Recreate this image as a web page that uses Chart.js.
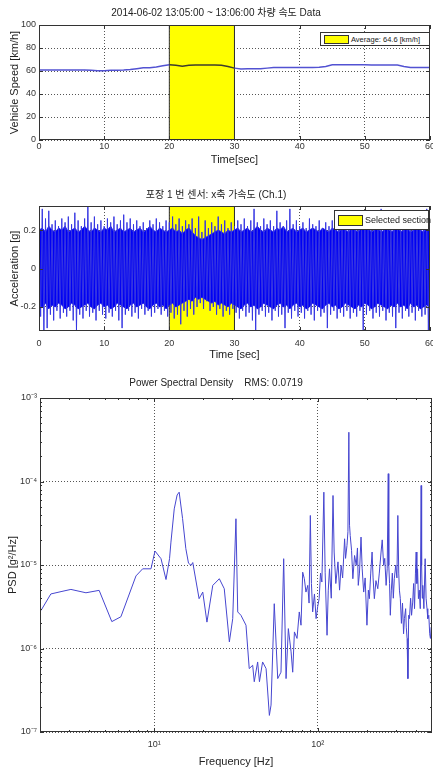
<!DOCTYPE html>
<html>
<head>
<meta charset="utf-8">
<script src="https://cdn.jsdelivr.net/npm/chart.js@4.4.1/dist/chart.umd.min.js"></script>
<style>
  html, body { margin: 0; padding: 0; background: #fff; overflow: hidden; }
  body { width: 433px; height: 772px; position: relative; }
  canvas { position: absolute; left: 0; }
  .legend { position: absolute; background: #fff; border: 1px solid #333; box-sizing: border-box;
            font-family: 'Liberation Sans', Arial, sans-serif; color: #222; white-space: nowrap; }
  .legend .swatch { position: absolute; background: #ffff00; border: 1px solid #333; box-sizing: border-box; }
  .legend .label { position: absolute; }
</style>
</head>
<body>
<canvas id="speedChart" width="435" height="178" style="top:0"></canvas>
<canvas id="accelChart" width="435" height="186" style="top:180px"></canvas>
<canvas id="psdChart" width="433" height="406" style="top:366px"></canvas>

<div class="legend" style="left:320px;top:32px;width:110px;height:14px">
  <div class="swatch" style="left:3px;top:2px;width:25px;height:9px"></div>
  <div class="label" id="speedLegend" style="left:30px;top:1px;font-size:7.5px;line-height:11px"></div>
</div>
<div class="legend" style="left:334px;top:210px;width:95px;height:20px">
  <div class="swatch" style="left:3px;top:4px;width:25px;height:11px"></div>
  <div class="label" id="accelLegend" style="left:30px;top:4px;font-size:9px;line-height:11px"></div>
</div>

<script>
// selected section (sec)
const sectionRange = [20, 30];

// vehicle speed, one value per second, 0..60 s
const speedValues = [60.8, 60.8, 60.8, 60.8, 60.8, 60.8, 60.8, 60.8, 60.6, 60.2, 60.2,
    60.6, 60.6, 60.8, 61.3, 62, 62.8, 62.8, 63.5, 64.5, 65.5,
    65, 64.2, 65, 65.3, 65.3, 65.3, 65.3, 65, 64, 62.5,
    61.8, 62, 62, 62, 62.5, 63, 63, 63, 63, 63,
    63, 63, 63.2, 64, 65.5, 65.5, 65.5, 65.5, 65.5, 65.5,
    65.2, 65.2, 65.2, 65.2, 65.2, 64, 63, 63, 63, 63];
const speedXTicks = [0, 10, 20, 30, 40, 50, 60];
const speedYTicks = [0, 20, 40, 60, 80, 100];
const speedLegendText = 'Average: 64.6 [km/h]';

// acceleration: peak (max / min) per half second, 0..60 s
const accelMax = [0.24, 0.31, 0.26, 0.30, 0.23, 0.25, 0.22, 0.26, 0.24, 0.27,
    0.23, 0.29, 0.25, 0.22, 0.26, 0.33, 0.24, 0.27, 0.23, 0.25,
    0.22, 0.26, 0.24, 0.27, 0.23, 0.25, 0.28, 0.24, 0.26, 0.23,
    0.25, 0.22, 0.24, 0.21, 0.25, 0.23, 0.26, 0.24, 0.22, 0.25,
    0.24, 0.27, 0.23, 0.26, 0.22, 0.25, 0.23, 0.26, 0.21, 0.27,
    0.19, 0.25, 0.21, 0.24, 0.22, 0.27, 0.23, 0.25, 0.21, 0.24,
    0.22, 0.25, 0.23, 0.26, 0.22, 0.25, 0.31, 0.24, 0.22, 0.26,
    0.23, 0.25, 0.22, 0.30, 0.24, 0.22, 0.25, 0.31, 0.23, 0.25,
    0.22, 0.24, 0.21, 0.26, 0.23, 0.22, 0.25, 0.21, 0.24, 0.22,
    0.25, 0.23, 0.21, 0.24, 0.22, 0.30, 0.23, 0.21, 0.24, 0.22,
    0.25, 0.22, 0.24, 0.21, 0.25, 0.31, 0.22, 0.24, 0.23, 0.30,
    0.22, 0.25, 0.23, 0.21, 0.30, 0.23, 0.25, 0.22, 0.24, 0.31, 0.23];
const accelMin = [-0.25, -0.32, -0.31, -0.24, -0.27, -0.22, -0.26, -0.23, -0.25, -0.22,
    -0.27, -0.32, -0.24, -0.26, -0.22, -0.25, -0.23, -0.27, -0.22, -0.24,
    -0.26, -0.23, -0.25, -0.22, -0.27, -0.31, -0.24, -0.22, -0.25, -0.23,
    -0.26, -0.21, -0.24, -0.22, -0.25, -0.23, -0.21, -0.24, -0.22, -0.25,
    -0.23, -0.26, -0.24, -0.29, -0.22, -0.25, -0.21, -0.24, -0.20, -0.18,
    -0.21, -0.17, -0.22, -0.20, -0.24, -0.21, -0.25, -0.22, -0.24, -0.21,
    -0.23, -0.26, -0.22, -0.25, -0.23, -0.27, -0.32, -0.24, -0.22, -0.25,
    -0.23, -0.27, -0.22, -0.25, -0.24, -0.31, -0.23, -0.26, -0.22, -0.25,
    -0.23, -0.26, -0.22, -0.24, -0.27, -0.22, -0.25, -0.23, -0.31, -0.24,
    -0.22, -0.26, -0.23, -0.25, -0.22, -0.26, -0.23, -0.25, -0.22, -0.32,
    -0.24, -0.22, -0.26, -0.23, -0.25, -0.22, -0.27, -0.23, -0.25, -0.31,
    -0.23, -0.26, -0.22, -0.25, -0.23, -0.27, -0.22, -0.25, -0.24, -0.32, -0.26];
// dense core of the signal, per half second
const accelCoreHi = [0.20, 0.21, 0.19, 0.22, 0.20, 0.19, 0.21, 0.20, 0.22, 0.19, 0.20,
    0.21, 0.19, 0.20, 0.22, 0.20, 0.19, 0.21, 0.20, 0.19, 0.21,
    0.20, 0.22, 0.19, 0.20, 0.21, 0.19, 0.20, 0.21, 0.19, 0.20,
    0.21, 0.19, 0.20, 0.22, 0.20, 0.19, 0.21, 0.20, 0.19, 0.20,
    0.21, 0.19, 0.20, 0.18, 0.20, 0.21, 0.19, 0.17, 0.16, 0.15,
    0.16, 0.17, 0.18, 0.19, 0.20, 0.19, 0.18, 0.20, 0.19, 0.20,
    0.21, 0.19, 0.20, 0.21, 0.19, 0.20, 0.22, 0.20, 0.19, 0.21,
    0.20, 0.19, 0.21, 0.20, 0.22, 0.19, 0.20, 0.21, 0.19, 0.20,
    0.21, 0.19, 0.20, 0.21, 0.20, 0.19, 0.21, 0.20, 0.19, 0.21,
    0.20, 0.19, 0.21, 0.20, 0.19, 0.21, 0.20, 0.19, 0.21, 0.20,
    0.21, 0.19, 0.20, 0.21, 0.19, 0.20, 0.21, 0.19, 0.20, 0.21,
    0.19, 0.20, 0.21, 0.19, 0.20, 0.21, 0.20, 0.19, 0.21, 0.20];
const accelCoreLo = [-0.19, -0.20, -0.18, -0.21, -0.19, -0.20, -0.18, -0.19, -0.21, -0.20, -0.18,
    -0.19, -0.21, -0.20, -0.19, -0.18, -0.20, -0.21, -0.19, -0.18, -0.20,
    -0.19, -0.21, -0.20, -0.18, -0.19, -0.20, -0.21, -0.19, -0.18, -0.20,
    -0.19, -0.18, -0.20, -0.21, -0.19, -0.18, -0.20, -0.19, -0.21, -0.19,
    -0.18, -0.20, -0.19, -0.18, -0.17, -0.16, -0.17, -0.15, -0.16, -0.15,
    -0.16, -0.17, -0.18, -0.17, -0.19, -0.18, -0.19, -0.20, -0.18, -0.19,
    -0.20, -0.21, -0.19, -0.18, -0.20, -0.19, -0.21, -0.20, -0.18, -0.19,
    -0.20, -0.21, -0.19, -0.18, -0.20, -0.19, -0.21, -0.19, -0.18, -0.20,
    -0.19, -0.21, -0.20, -0.18, -0.19, -0.20, -0.21, -0.19, -0.18, -0.20,
    -0.19, -0.21, -0.20, -0.18, -0.19, -0.20, -0.21, -0.19, -0.20, -0.18,
    -0.19, -0.21, -0.20, -0.18, -0.19, -0.20, -0.21, -0.19, -0.20, -0.18,
    -0.20, -0.19, -0.21, -0.18, -0.20, -0.19, -0.21, -0.20, -0.19, -0.20];
const accelXTicks = [0, 10, 20, 30, 40, 50, 60];
const accelYTicks = [-0.2, 0, 0.2];
const accelLegendText = 'Selected section';

// power spectral density
const psdFreq = [2.03, 2.33, 2.69, 3.09, 3.82, 4.6, 5.5, 6.25, 7.73, 8.49, 9.55,
    10.1, 11.0, 11.8, 12.4, 12.65, 13.25, 13.8, 14.2, 14.9, 15.6, 16.2, 16.8, 17.2,
    18.8, 19.8, 21.0, 22.8, 23.9, 25.0, 26.8, 28.8, 30.2, 31.6, 32.4, 33.9, 36.4,
    38.1, 40.0, 40.9, 42.9, 44.0, 46.0, 48.3, 50.6, 51.8, 54.2, 56.9, 59.6, 61.9,
    64.0, 66.1, 68.7, 70.3, 72.0, 74.7, 77.1, 79.0, 80.9, 82.8, 84.7, 86.9, 88.5, 90.1,
    91.5, 93.1, 95.5, 97.7, 100, 102, 104, 106, 109, 111, 114, 116, 118, 121, 124, 126,
    129, 133, 136, 139, 142, 146, 148, 151, 153, 155, 156.5, 158, 161, 164, 168, 172,
    175, 177, 180, 184, 187, 191, 195, 200, 204, 207, 211, 215, 218, 222, 227, 233,
    238, 244, 248, 253, 257, 262, 266, 270, 272, 275, 278, 282, 286, 290, 294, 300,
    305, 309, 313, 316, 320, 325, 330, 335, 339, 345, 348, 352, 356, 360, 364, 370,
    375, 381, 386, 391, 396, 400, 404, 408, 413, 418, 424, 429, 432, 436, 439, 446,
    454, 460, 466, 471, 478, 484, 489, 495, 500, 506];
const psdValues = [2.86e-6, 4.5e-6, 4.8e-6, 5.1e-6, 4.65e-6, 4.97e-6, 2.1e-6, 2.4e-6, 7.4e-6, 9.0e-6, 9.0e-6,
    1.47e-5, 1.19e-5, 6.7e-6, 1.19e-5, 1.88e-5, 4.7e-5, 6.9e-5, 7.45e-5, 3.6e-5, 1.57e-5, 1.05e-5, 9.9e-6, 1.07e-5,
    3.95e-6, 4.74e-6, 2.07e-6, 5.7e-6, 6.25e-6, 6.85e-6, 5.2e-6, 1.2e-6, 2.28e-6, 3.58e-5, 2.74e-6, 2.5e-6, 1.9e-6,
    5.75e-7, 6.3e-7, 4.0e-7, 6.9e-7, 4.0e-7, 6.9e-7, 5.75e-7, 1.58e-7, 2.1e-7, 3.44e-6, 4.36e-7, 5.2e-7, 1.19e-5,
    4.36e-7, 1.73e-6, 9.1e-7, 5.2e-7, 1.58e-6, 1.32e-6, 2.74e-6, 1.9e-6, 8.2e-6, 6.85e-6, 4.74e-6, 5.7e-6, 3.5e-6, 3.92e-5,
    6e-6, 2.74e-6, 4.5e-6, 2.28e-6, 3.2e-6, 3.95e-6, 8e-6, 6.25e-6, 7.45e-5, 8.2e-6, 1.44e-6, 5e-6, 9.0e-6, 4e-6, 6.8e-5, 1.43e-5,
    6e-6, 1.09e-5, 5e-6, 9.9e-6, 7e-6, 2.06e-5, 1.2e-5, 1.72e-5, 2.5e-5, 3.89e-4, 3e-5, 2.26e-5, 1.5e-5, 6.85e-6, 1.3e-5, 9.9e-6,
    1.6e-5, 5.7e-6, 8e-6, 2.16e-5, 9e-6, 4.74e-6, 7e-6, 1.9e-6, 5e-6, 3.95e-6, 8e-6, 1.43e-5, 7e-6, 3.95e-6, 6.5e-6, 5.2e-6,
    8e-6, 1.43e-5, 2e-5, 9.9e-6, 1.2e-5, 5.7e-6, 9e-6, 1.24e-4, 1e-5, 6e-6, 2.5e-6, 5e-6, 8e-6, 4e-6, 6.85e-6, 1e-5,
    7e-6, 3.92e-5, 8e-6, 5e-6, 3.95e-6, 2e-6, 3.5e-6, 1.5e-6, 2.28e-6, 3e-6, 1.8e-6, 1.32e-6, 4.36e-7, 2.5e-6, 2.28e-6, 4e-6,
    2.5e-6, 3.6e-6, 6e-6, 3e-6, 8e-6, 1.43e-5, 6e-6, 9e-6, 3.95e-6, 5e-6, 3e-6, 8.95e-5, 1e-5, 4e-6, 5.7e-6, 3e-6,
    1.19e-5, 4e-6, 3e-6, 2.28e-6, 2.5e-6, 1.5e-6, 1.32e-6, 1.8e-6, 8e-7, 5.75e-7];
const psdXTicks = [10, 100];
const psdXTickLabels = ['10\u00b9', '10\u00b2'];
const psdXMinor = [2, 3, 4, 5, 6, 7, 8, 9, 20, 30, 40, 50, 60, 70, 80, 90, 200, 300, 400];
const psdYTicks = [1e-7, 1e-6, 1e-5, 1e-4, 1e-3];
const psdYTickLabels = ['10\u207b\u2077', '10\u207b\u2076', '10\u207b\u2075', '10\u207b\u2074', '10\u207b\u00b3'];
const psdYMinor = [2e-7, 3e-7, 4e-7, 5e-7, 6e-7, 7e-7, 8e-7, 9e-7, 2e-6, 3e-6, 4e-6, 5e-6, 6e-6, 7e-6, 8e-6, 9e-6,
    2e-5, 3e-5, 4e-5, 5e-5, 6e-5, 7e-5, 8e-5, 9e-5, 2e-4, 3e-4, 4e-4, 5e-4, 6e-4, 7e-4, 8e-4, 9e-4];

const FONT = "'Liberation Sans', Arial, 'Noto Sans CJK KR', sans-serif";

// matlab style box with inward ticks
const boxPlugin = {
    id: 'matlabBox',
    afterDraw(chart, args, opts) {
        const { ctx, chartArea: a, scales } = chart;
        ctx.save();
        ctx.strokeStyle = '#333';
        ctx.lineWidth = 1;
        ctx.beginPath();
        const marks = (vals, len) => {
            (vals.x || []).forEach(v => {
                const x = Math.round(scales.x.getPixelForValue(v)) + 0.5;
                ctx.moveTo(x, a.bottom); ctx.lineTo(x, a.bottom - len);
                ctx.moveTo(x, a.top); ctx.lineTo(x, a.top + len);
            });
            (vals.y || []).forEach(v => {
                const y = Math.round(scales.y.getPixelForValue(v)) + 0.5;
                ctx.moveTo(a.left, y); ctx.lineTo(a.left + len, y);
                ctx.moveTo(a.right, y); ctx.lineTo(a.right - len, y);
            });
        };
        marks(opts.major || {}, 4);
        marks(opts.minor || {}, 2);
        ctx.stroke();
        ctx.strokeRect(Math.round(a.left) + 0.5, Math.round(a.top) + 0.5,
            Math.round(a.right - a.left) - 1, Math.round(a.bottom - a.top) - 1);
        ctx.restore();
    }
};

// tickLen is a blank gap between the box and the tick labels
function axisStyle(ticks, labels, width, height, tickLen) {
    return {
        afterBuildTicks: s => { s.ticks = ticks.map(v => ({ value: v })); },
        afterFit: s => {
            if (width) s.width = width;
            if (height) s.height = height;
        },
        grid: { color: '#555', lineWidth: 1, drawTicks: true, tickLength: tickLen, tickColor: 'transparent' },
        border: { display: false, dash: [1, 2] },
        ticks: {
            autoSkip: false, maxRotation: 0, padding: 0, color: '#333',
            font: { family: FONT, size: 9 },
            callback: v => labels ? labels[ticks.indexOf(v)] : String(v)
        }
    };
}

function titleOpts(text, pad) {
    return { display: true, text: text, color: '#222', font: { family: FONT, size: 10, weight: 'normal' }, padding: pad };
}

function axisTitle(text, pad) {
    return { display: true, text: text, color: '#222', font: { family: FONT, size: 11 }, padding: pad };
}

function renderSpeed() {
    document.getElementById('speedLegend').textContent = speedLegendText;
    const ctx = document.getElementById('speedChart').getContext('2d');
    const [s0, s1] = sectionRange;
    new Chart(ctx, {
        type: 'line',
        data: {
            datasets: [
                {
                    label: speedLegendText,
                    data: [{ x: s0, y: 0 }, { x: s0, y: 100 }, { x: s1, y: 100 }, { x: s1, y: 0 }],
                    borderColor: '#333', borderWidth: 1, backgroundColor: '#ffff00',
                    fill: 'origin', pointRadius: 0, order: 2
                },
                {
                    label: 'Vehicle Speed',
                    data: speedValues.map((v, i) => ({ x: i, y: v })),
                    borderColor: '#5252d2', borderWidth: 1.5, pointRadius: 0, fill: false, order: 1,
                    segment: {
                        borderColor: c => (c.p0.parsed.x >= s0 && c.p1.parsed.x <= s1) ? '#3c3c2c' : '#5252d2'
                    }
                }
            ]
        },
        options: {
            responsive: false, animation: false,
            layout: { padding: { left: 0, right: 3, top: 0, bottom: 0 } },
            plugins: {
                legend: { display: false }, tooltip: { enabled: false },
                title: titleOpts('2014-06-02 13:05:00 ~ 13:06:00 차량 속도 Data', { top: 7, bottom: 6 }),
                matlabBox: { major: { x: speedXTicks, y: speedYTicks } }
            },
            scales: {
                x: Object.assign({ type: 'linear', min: 0, max: 60,
                    title: axisTitle('Time[sec]', { top: 0, bottom: 11 }) },
                    axisStyle(speedXTicks, null, 0, 38, 1)),
                y: Object.assign({ type: 'linear', min: 0, max: 100,
                    title: axisTitle('Vehicle Speed [km/h]', { top: 8, bottom: 0 }) },
                    axisStyle(speedYTicks, null, 39, 0, 3))
            }
        },
        plugins: [boxPlugin]
    });
}

function renderAccel() {
    document.getElementById('accelLegend').textContent = accelLegendText;
    const ctx = document.getElementById('accelChart').getContext('2d');
    const [s0, s1] = sectionRange;
    const yLim = 0.325;
    const signal = [];
    accelMax.forEach((v, i) => {
        signal.push({ x: i * 0.5, y: v });
        signal.push({ x: i * 0.5 + 0.25, y: accelMin[i] });
    });
    new Chart(ctx, {
        type: 'line',
        data: {
            datasets: [
                {
                    label: accelLegendText,
                    data: [{ x: s0, y: -yLim }, { x: s0, y: yLim }, { x: s1, y: yLim }, { x: s1, y: -yLim }],
                    borderColor: '#333', borderWidth: 1, backgroundColor: '#ffff00',
                    fill: 'start', pointRadius: 0, order: 3
                },
                {
                    label: 'core hi',
                    data: accelCoreHi.map((v, i) => ({ x: i * 0.5, y: v })),
                    borderWidth: 1, borderColor: '#2a2ae8', backgroundColor: '#0000f4', fill: '+1', pointRadius: 0, order: 2
                },
                {
                    label: 'core lo',
                    data: accelCoreLo.map((v, i) => ({ x: i * 0.5, y: v })),
                    borderWidth: 1, borderColor: '#2a2ae8', fill: false, pointRadius: 0, order: 2
                },
                {
                    label: 'Acceleration',
                    data: signal,
                    borderColor: '#3636e2', borderWidth: 1, pointRadius: 0, fill: false, order: 1
                }
            ]
        },
        options: {
            responsive: false, animation: false,
            layout: { padding: { left: 0, right: 3, top: 0, bottom: 0 } },
            plugins: {
                legend: { display: false }, tooltip: { enabled: false },
                title: titleOpts('포장 1 번 센서: x축 가속도 (Ch.1)', { top: 9, bottom: 5 }),
                matlabBox: { major: { x: accelXTicks, y: accelYTicks } }
            },
            scales: {
                x: Object.assign({ type: 'linear', min: 0, max: 60,
                    title: axisTitle('Time [sec]', { top: 0, bottom: 4 }) },
                    axisStyle(accelXTicks, null, 0, 35, 7)),
                y: Object.assign({ type: 'linear', min: -yLim, max: yLim,
                    title: axisTitle('Acceleration [g]', { top: 8, bottom: 0 }) },
                    axisStyle(accelYTicks, null, 39, 0, 3))
            }
        },
        plugins: [boxPlugin]
    });
}

function renderPsd() {
    const ctx = document.getElementById('psdChart').getContext('2d');
    new Chart(ctx, {
        type: 'line',
        data: {
            datasets: [
                {
                    label: 'PSD',
                    data: psdFreq.map((f, i) => ({ x: f, y: psdValues[i] })),
                    borderColor: '#4646d0', borderWidth: 1, pointRadius: 0, fill: false
                }
            ]
        },
        options: {
            responsive: false, animation: false,
            layout: { padding: { left: 0, right: 1, top: 0, bottom: 0 } },
            plugins: {
                legend: { display: false }, tooltip: { enabled: false },
                title: titleOpts('Power Spectral Density    RMS: 0.0719', { top: 11, bottom: 9 }),
                matlabBox: {
                    major: { x: psdXTicks, y: psdYTicks },
                    minor: { x: psdXMinor, y: psdYMinor }
                }
            },
            scales: {
                x: Object.assign({ type: 'logarithmic', min: 2, max: 500,
                    title: axisTitle('Frequency [Hz]', { top: 0, bottom: 3 }) },
                    axisStyle(psdXTicks, psdXTickLabels, 0, 40, 7)),
                y: Object.assign({ type: 'logarithmic', min: 1e-7, max: 1e-3,
                    title: axisTitle('PSD [g\u00b2/Hz]', { top: 6, bottom: 0 }) },
                    axisStyle(psdYTicks, psdYTickLabels, 40, 0, 3))
            }
        },
        plugins: [boxPlugin]
    });
}

document.addEventListener('DOMContentLoaded', function () {
    renderSpeed();
    renderAccel();
    renderPsd();
});
</script>
</body>
</html>
